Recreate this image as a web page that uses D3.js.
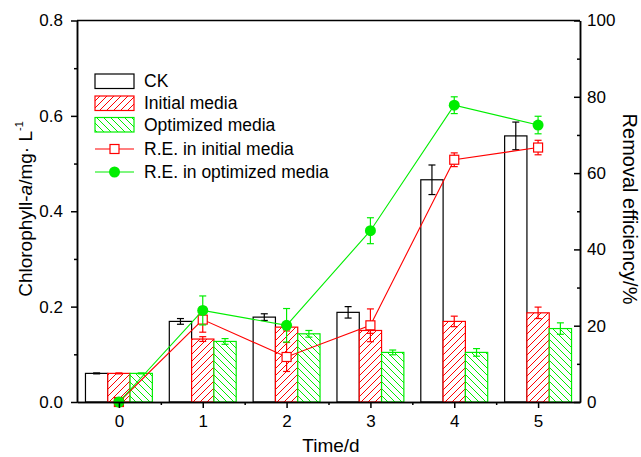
<!DOCTYPE html>
<html>
<head>
<meta charset="utf-8">
<script src="https://cdn.jsdelivr.net/npm/d3@7"></script>
<style>
body { margin: 0; background: #fff; }
svg { display: block; font-family: "Liberation Sans", Arial, Helvetica, sans-serif; }
.axis path, .axis line { stroke: #000; stroke-width: 1.5; }
.axis text { font-size: 17px; fill: #000; }
</style>
</head>
<body>
<div id="chart"></div>
<script>
// chart values
var days = [0, 1, 2, 3, 4, 5];
var ck = [0.060, 0.169, 0.178, 0.188, 0.466, 0.558];
var ckErr = [0.001, 0.006, 0.007, 0.012, 0.031, 0.029];
var initial = [0.060, 0.132, 0.157, 0.150, 0.169, 0.187];
var initialErr = [0.001, 0.005, 0.008, 0.006, 0.011, 0.012];
var optimized = [0.060, 0.127, 0.143, 0.104, 0.104, 0.154];
var optimizedErr = [0.001, 0.006, 0.007, 0.005, 0.008, 0.012];
var reInitial = [0, 21.6, 11.8, 20.1, 63.5, 66.7];
var reInitialErr = [0, 3.3, 3.8, 4.3, 1.8, 1.9];
var reOptimized = [0, 24.0, 20.1, 44.9, 77.8, 72.6];
var reOptimizedErr = [0, 3.8, 4.4, 3.4, 2.2, 2.3];
var leftTicks = [0, 0.2, 0.4, 0.6, 0.8];
var rightTicks = [0, 20, 40, 60, 80, 100];
var legendLabels = ["CK", "Initial media", "Optimized media", "R.E. in initial media", "R.E. in optimized media"];

var width = 641, height = 457;
var margin = {top: 20.5, right: 60, bottom: 54.5, left: 77};

var red = "#ff0000", green = "#00ee00";

var svg = d3.select("#chart").append("svg")
  .attr("width", width)
  .attr("height", height);

// hatch patterns
var defs = svg.append("defs");
function hatch(id, d, color) {
  var p = defs.append("pattern")
    .attr("id", id)
    .attr("patternUnits", "userSpaceOnUse")
    .attr("width", 7).attr("height", 7);
  p.append("rect").attr("width", 7).attr("height", 7).attr("fill", "#fff");
  p.append("path")
    .attr("d", d)
    .attr("fill", "none")
    .attr("stroke", color).attr("stroke-width", 1);
}
hatch("hatchRed", "M-1,1 l2,-2 M0,7 l7,-7 M6,8 l2,-2", red);
hatch("hatchGreen", "M-1,6 l2,2 M0,0 l7,7 M6,-1 l2,2", green);

// scales
var x = d3.scaleLinear().domain([-0.5, 5.5]).range([margin.left, width - margin.right - 1]);
var yL = d3.scaleLinear().domain([0, 0.8]).range([height - margin.bottom - 0.5, margin.top]);
var yR = d3.scaleLinear().domain([0, 100]).range([height - margin.bottom - 0.5, margin.top]);

var step = x(1) - x(0);
var barW = step * 0.266;

var series = [
  {vals: ck, err: ckErr, off: -1, fill: "#fff", stroke: "#000"},
  {vals: initial, err: initialErr, off: 0, fill: "url(#hatchRed)", stroke: red},
  {vals: optimized, err: optimizedErr, off: 1, fill: "url(#hatchGreen)", stroke: green}
];

// bars
series.forEach(function(s) {
  svg.append("g").selectAll("rect")
    .data(days)
    .enter().append("rect")
    .attr("x", function(d) { return x(d) + s.off * barW - barW / 2; })
    .attr("y", function(d, i) { return yL(s.vals[i]); })
    .attr("width", barW)
    .attr("height", function(d, i) { return yL(0) - yL(s.vals[i]); })
    .attr("fill", s.fill)
    .attr("stroke", s.stroke)
    .attr("stroke-width", 1.2);
});

// error bars helper
function errorBars(g, xs, lo, hi, color) {
  var cap = 3.5;
  xs.forEach(function(xv, i) {
    var y1 = lo[i], y2 = hi[i];
    g.append("line").attr("x1", xv).attr("x2", xv).attr("y1", y1).attr("y2", y2)
      .attr("stroke", color).attr("stroke-width", 1.2);
    g.append("line").attr("x1", xv - cap).attr("x2", xv + cap).attr("y1", y1).attr("y2", y1)
      .attr("stroke", color).attr("stroke-width", 1.2);
    g.append("line").attr("x1", xv - cap).attr("x2", xv + cap).attr("y1", y2).attr("y2", y2)
      .attr("stroke", color).attr("stroke-width", 1.2);
  });
}

series.forEach(function(s) {
  var g = svg.append("g");
  var xs = days.map(function(d) { return x(d) + s.off * barW; });
  errorBars(g, xs,
    s.vals.map(function(v, i) { return yL(v - s.err[i]); }),
    s.vals.map(function(v, i) { return yL(v + s.err[i]); }),
    s.stroke);
});

// removal efficiency lines
var line = d3.line()
  .x(function(d) { return x(d[0]); })
  .y(function(d) { return yR(d[1]); });

var reSeries = [
  {vals: reInitial, err: reInitialErr, color: red, marker: "square"},
  {vals: reOptimized, err: reOptimizedErr, color: green, marker: "circle"}
];

reSeries.forEach(function(s) {
  var g = svg.append("g");
  var pts = days.map(function(d, i) { return [d, s.vals[i]]; });
  g.append("path")
    .attr("d", line(pts))
    .attr("fill", "none")
    .attr("stroke", s.color)
    .attr("stroke-width", 1.1);
  var idx = days.filter(function(d, i) { return s.err[i] > 0; });
  errorBars(g.append("g"), idx.map(function(d) { return x(d); }),
    idx.map(function(d) { return yR(s.vals[d] - s.err[d]); }),
    idx.map(function(d) { return yR(s.vals[d] + s.err[d]); }),
    s.color);
  if (s.marker === "square") {
    g.selectAll("rect")
      .data(pts)
      .enter().append("rect")
      .attr("x", function(d) { return x(d[0]) - 4.5; })
      .attr("y", function(d) { return yR(d[1]) - 4.5; })
      .attr("width", 9).attr("height", 9)
      .attr("fill", "#fff")
      .attr("stroke", s.color)
      .attr("stroke-width", 1.2);
  } else {
    g.selectAll("circle")
      .data(pts)
      .enter().append("circle")
      .attr("cx", function(d) { return x(d[0]); })
      .attr("cy", function(d) { return yR(d[1]); })
      .attr("r", 5.5)
      .attr("fill", s.color);
  }
});

// axes
var xAxis = d3.axisBottom(x).tickValues(days).tickFormat(d3.format("d")).tickSizeInner(6).tickSizeOuter(0).tickPadding(7);
var xMinor = d3.axisBottom(x).tickValues([0.5, 1.5, 2.5, 3.5, 4.5]).tickFormat("").tickSizeInner(3).tickSizeOuter(0);
var yAxisL = d3.axisLeft(yL).tickValues(leftTicks).tickFormat(d3.format(".1f")).tickSizeInner(6).tickSizeOuter(0).tickPadding(8);
var yMinorL = d3.axisLeft(yL).tickValues([0.1, 0.3, 0.5, 0.7]).tickFormat("").tickSizeInner(3).tickSizeOuter(0);
var yAxisR = d3.axisRight(yR).tickValues(rightTicks).tickFormat(d3.format("d")).tickSizeInner(-6).tickSizeOuter(0).tickPadding(7);
var yMinorR = d3.axisRight(yR).tickValues([10, 30, 50, 70, 90]).tickFormat("").tickSizeInner(-3).tickSizeOuter(0);

svg.append("g").attr("class", "axis").attr("transform", "translate(0," + yL(0) + ")").call(xAxis);
svg.append("g").attr("class", "axis").attr("transform", "translate(0," + yL(0) + ")").call(xMinor);
svg.append("g").attr("class", "axis").attr("transform", "translate(" + x(-0.5) + ",0)").call(yAxisL);
svg.append("g").attr("class", "axis").attr("transform", "translate(" + x(-0.5) + ",0)").call(yMinorL);
svg.append("g").attr("class", "axis").attr("transform", "translate(" + x(5.5) + ",0)").call(yAxisR);
svg.append("g").attr("class", "axis").attr("transform", "translate(" + x(5.5) + ",0)").call(yMinorR);

// top frame
svg.append("line")
  .attr("x1", x(-0.5)).attr("x2", x(5.5))
  .attr("y1", yL(0.8)).attr("y2", yL(0.8))
  .attr("stroke", "#000").attr("stroke-width", 1.5);

// axis titles
svg.append("text")
  .attr("x", 331).attr("y", 452)
  .attr("text-anchor", "middle")
  .attr("font-size", 19)
  .text("Time/d");

var yt = svg.append("text")
  .attr("transform", "translate(32,209) rotate(-90)")
  .attr("text-anchor", "middle")
  .attr("font-size", 19);
yt.append("tspan").text("Chlorophyll-");
yt.append("tspan").attr("font-style", "italic").text("a");
yt.append("tspan").text("/mg\u00b7 L");
yt.append("tspan").attr("font-size", 11).attr("dy", -9).text("-1");

svg.append("text")
  .attr("transform", "translate(623,209) rotate(90)")
  .attr("text-anchor", "middle")
  .attr("font-size", 20)
  .text("Removal efficiency/%");

// legend
var legend = svg.append("g").attr("font-size", 17.5);
var rowY = [81, 103, 124.5, 149, 172];
[ {fill: "#fff", stroke: "#000"}, {fill: "url(#hatchRed)", stroke: red}, {fill: "url(#hatchGreen)", stroke: green} ]
  .forEach(function(s, i) {
    legend.append("rect")
      .attr("x", 95).attr("y", rowY[i] - 7)
      .attr("width", 39).attr("height", 14.5)
      .attr("fill", s.fill).attr("stroke", s.stroke).attr("stroke-width", 1.2);
  });
legend.append("line").attr("x1", 95).attr("x2", 134).attr("y1", rowY[3]).attr("y2", rowY[3])
  .attr("stroke", red).attr("stroke-width", 1.1);
legend.append("rect").attr("x", 110).attr("y", rowY[3] - 4.5).attr("width", 9).attr("height", 9)
  .attr("fill", "#fff").attr("stroke", red).attr("stroke-width", 1.2);
legend.append("line").attr("x1", 95).attr("x2", 134).attr("y1", rowY[4]).attr("y2", rowY[4])
  .attr("stroke", green).attr("stroke-width", 1.1);
legend.append("circle").attr("cx", 114.5).attr("cy", rowY[4]).attr("r", 5.5).attr("fill", green);
legendLabels.forEach(function(t, i) {
  legend.append("text")
    .attr("x", 144).attr("y", rowY[i])
    .attr("dy", "0.36em")
    .text(t);
});
</script>
</body>
</html>
